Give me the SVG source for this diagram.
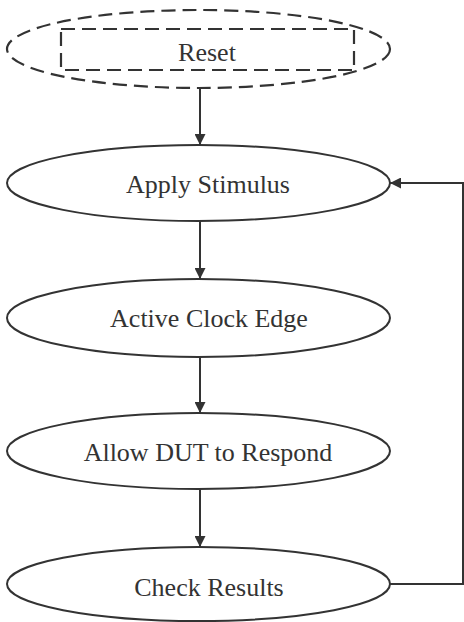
<svg xmlns="http://www.w3.org/2000/svg" width="464" height="622" viewBox="0 0 464 622">
<style>
.node{fill:#fff;stroke:#333;stroke-width:2}
.dash{fill:none;stroke:#333;stroke-width:2.2;stroke-dasharray:14 7}
.lbl{font-family:"Liberation Serif",serif;font-size:26px;fill:#333;text-anchor:middle}
.edge{fill:none;stroke:#333;stroke-width:2}
</style>
<defs>
<marker id="ah" markerWidth="11" markerHeight="11" viewBox="0 0 10 10" refX="10" refY="5" orient="auto" markerUnits="userSpaceOnUse">
<path d="M0,0 L10,5 L0,10 z" fill="#333"/>
</marker>
</defs>
<g id="reset">
<ellipse class="dash" cx="198.5" cy="49" rx="191.5" ry="39"/>
<rect class="dash" x="61" y="29" width="293" height="41"/>
<text class="lbl" x="207" y="61">Reset</text>
</g>
<g id="apply">
<ellipse class="node" cx="198.5" cy="183" rx="191.5" ry="38"/>
<text class="lbl" x="208" y="193">Apply Stimulus</text>
</g>
<g id="clock">
<ellipse class="node" cx="198.5" cy="318" rx="191.5" ry="39"/>
<text class="lbl" x="209" y="327">Active Clock Edge</text>
</g>
<g id="allow">
<ellipse class="node" cx="198.5" cy="451" rx="191.5" ry="38"/>
<text class="lbl" x="208" y="461">Allow DUT to Respond</text>
</g>
<g id="check">
<ellipse class="node" cx="198.5" cy="584" rx="191.5" ry="37"/>
<text class="lbl" x="209" y="596">Check Results</text>
</g>
<g id="connectors">
<line class="edge" x1="200" y1="88" x2="200" y2="145" marker-end="url(#ah)"/>
<line class="edge" x1="200" y1="221" x2="200" y2="279" marker-end="url(#ah)"/>
<line class="edge" x1="200" y1="357" x2="200" y2="413" marker-end="url(#ah)"/>
<line class="edge" x1="200" y1="489" x2="200" y2="547" marker-end="url(#ah)"/>
<polyline class="edge" points="390,584 463,584 463,183 390,183" marker-end="url(#ah)"/>
</g>
</svg>
